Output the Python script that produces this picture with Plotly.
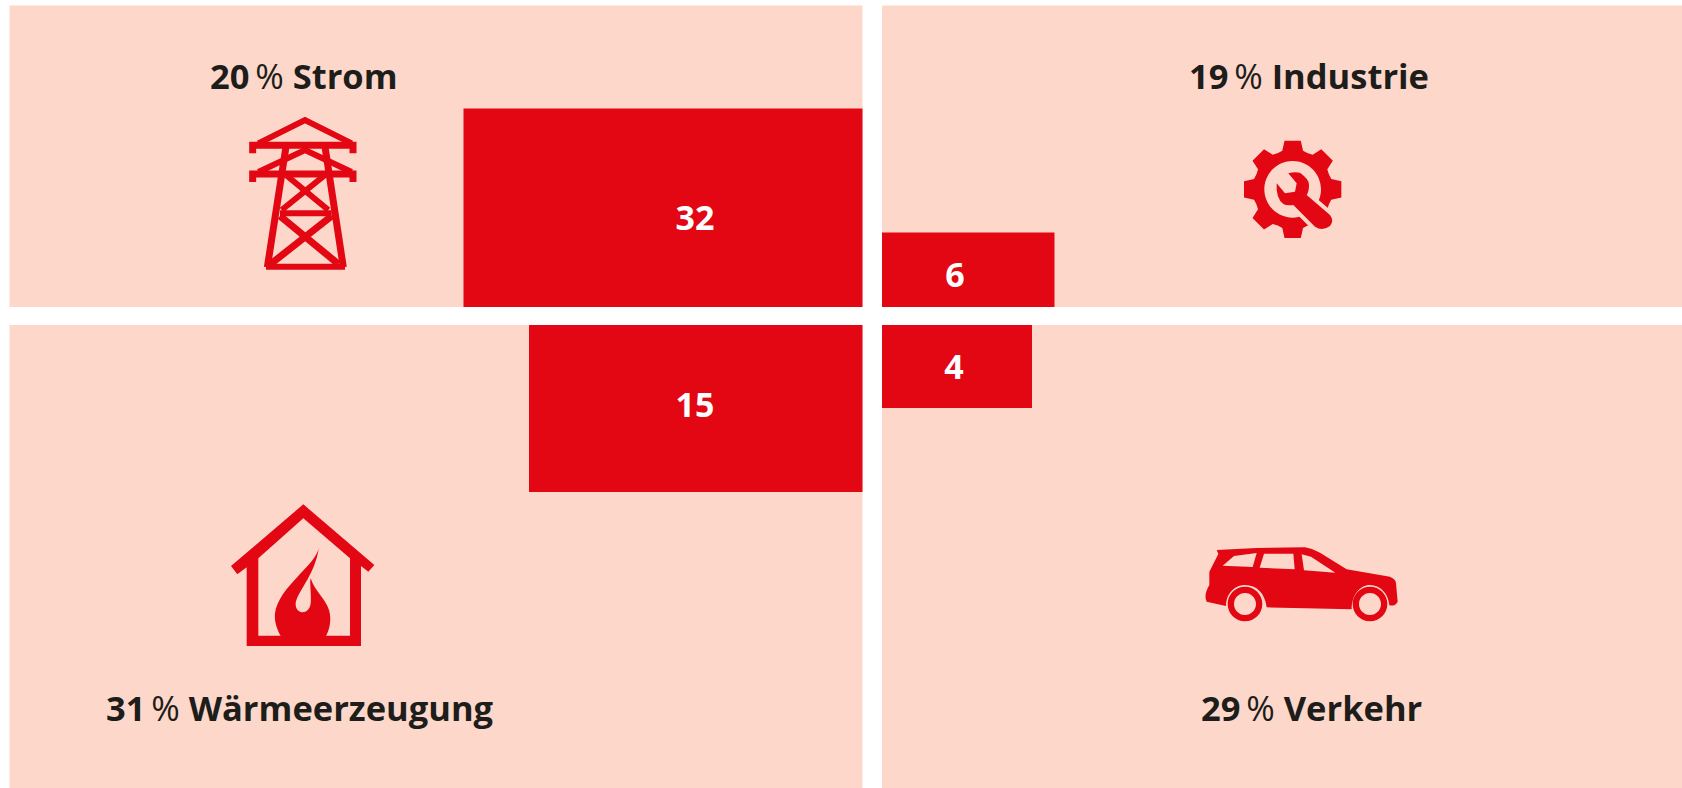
import math
import re
import plotly.graph_objects as go

# ---- data ----
sectors = ["Strom", "Industrie", "Wärmeerzeugung", "Verkehr"]
shares = [20, 19, 31, 29]
flows = [32, 6, 15, 4]

# ---- layout (pixels of the 1682x788 canvas) ----
W, H = 1682, 788
RED, PEACH, INK = "#E30613", "#FDD8CA", "#1D1D1B"
FONT = "Open Sans"

panels = [(9.5, 5.5, 862.5, 307), (882, 5.5, 1682, 307), (9.5, 325, 862.5, 788), (882, 325, 1682, 788)]
label_pos = [(304, 75), (1309, 75), (300, 707), (1311, 707)]
flow_bars = [(463.5, 108.5, 862.5, 307), (882, 232.5, 1054.5, 307), (529, 325, 862.5, 492), (882, 325, 1032, 408)]
flow_label_pos = [(695, 221), (955, 278), (695, 408), (954, 370)]


def zp(path, ox, oy):
    """Icon outlines are written in 3x zoom units; convert to canvas pixels."""
    out, is_x = [], True
    for tok in re.findall(r"[A-Za-z]|-?\d+\.?\d*", path):
        if tok.isalpha():
            out.append(tok)
            is_x = True
        else:
            v = float(tok) / 3 + (ox if is_x else oy)
            out.append(f"{v:.2f}")
            is_x = not is_x
    return " ".join(out)


def circle(cx, cy, r):
    k = 0.5523 * r
    return (f"M {cx-r} {cy} C {cx-r} {cy-k} {cx-k} {cy-r} {cx} {cy-r} "
            f"C {cx+k} {cy-r} {cx+r} {cy-k} {cx+r} {cy} "
            f"C {cx+r} {cy+k} {cx+k} {cy+r} {cx} {cy+r} "
            f"C {cx-k} {cy+r} {cx-r} {cy+k} {cx-r} {cy} Z ")


def gear_outline(cx, cy, teeth=8, tip=148, root=120, valley=116, tip_half=9.5, base_half=15):
    def pt(r, deg):
        a = math.radians(deg)
        return f"{cx + r * math.sin(a):.1f} {cy - r * math.cos(a):.1f}"

    step = 360 / teeth
    parts = []
    for k in range(teeth):
        c = k * step
        parts.append(("M " if k == 0 else "L ") + pt(root, c - base_half))
        parts.append("L " + pt(tip, c - tip_half))
        parts.append("L " + pt(tip, c + tip_half))
        parts.append("L " + pt(root, c + base_half))
        parts.append("Q " + pt(valley, c + step / 2) + " " + pt(root, c + step - base_half))
    return " ".join(parts) + " Z "


shapes = []
for x0, y0, x1, y1 in panels:
    shapes.append(dict(type="rect", x0=x0, y0=y0, x1=x1, y1=y1, fillcolor=PEACH,
                       line_width=0, layer="below"))


def fill(path, ox, oy, color=RED, line=None, lw=0):
    shapes.append(dict(type="path", path=zp(path, ox, oy), fillcolor=color, layer="above",
                       line=dict(color=line or color, width=lw)))


def stroke(path, ox, oy, lw):
    shapes.append(dict(type="path", path=zp(path, ox, oy), layer="above",
                       line=dict(color=RED, width=lw)))


# pylon
o = (180, 40)
stroke("M 235 310 L 375 240 L 515 310", *o, 6)
stroke("M 218 340 L 218 316 L 519 316 L 519 340", *o, 7)
stroke("M 235 396 L 375 330 L 515 396", *o, 6)
stroke("M 218 426 L 218 402 L 519 402 L 519 426", *o, 7)
stroke("M 318 320 L 262 682", *o, 7)
stroke("M 435 320 L 490 682", *o, 7)
stroke("M 258 680 L 495 680", *o, 6)
stroke("M 300 520 L 455 520", *o, 6)
stroke("M 318 405 L 445 510", *o, 6)
stroke("M 435 405 L 305 510", *o, 6)
stroke("M 300 528 L 475 672", *o, 7)
stroke("M 455 528 L 272 672", *o, 7)

# gear and wrench
o = (1235, 130)
shapes.append(dict(type="path", path=zp(gear_outline(173, 178) + circle(173, 178, 85), *o), fillcolor=RED,
                   layer="above", fillrule="evenodd", line=dict(color=RED, width=0)))
wrench = ("M 160 130 Q 178 124 195 128 Q 225 150 222 165 Q 222 185 215 195 L 285 255 Q 298 272 285 288 "
          "Q 262 305 240 290 L 175 225 Q 155 228 145 222 Q 122 205 125 160 L 150 190 L 180 185 L 185 160 Z")
fill(wrench, *o, PEACH, PEACH, 8)
fill(wrench, *o)

# house with flame
o = (200, 490)
shapes.append(dict(type="path", fillcolor=RED, layer="above", fillrule="evenodd", line=dict(color=RED, width=0),
                   path=zp("M 310 43 L 523 225 L 505 245 L 483 228 L 483 468 L 140 468 L 140 232 L 112 253 "
                           "L 93 228 Z M 310 85 L 175 205 L 175 437 L 450 437 L 450 205 Z", *o)))
fill("M 357 170 C 350 225 235 290 225 370 C 222 395 232 420 242 438 L 378 438 C 388 420 396 390 387 360 "
     "C 376 325 345 305 332 265 C 328 275 335 320 332 340 C 328 375 290 375 287 345 C 285 310 345 260 357 170 Z", *o)

# car
o = (1190, 530)
fill("M 80 60 L 200 54 L 345 52 Q 370 56 390 68 L 470 118 L 600 140 Q 618 148 618 160 L 623 215 Q 615 230 598 226 "
     "C 595 190 570 165 540 165 C 510 165 485 195 485 238 L 230 232 C 225 190 200 165 165 165 C 135 165 108 190 108 228 "
     "L 50 215 Q 40 195 58 165 L 58 125 L 85 72 Z", *o)
for pts in ("M 98 107 L 132 78 L 200 69 L 188 111 Z", "M 222 71 L 310 71 L 314 118 L 209 113 Z",
            "M 335 73 L 363 80 L 436 128 L 342 121 Z"):
    fill(pts, *o, PEACH)
for cx in (165, 540):
    shapes.append(dict(type="path", fillcolor=RED, layer="above", fillrule="evenodd", line=dict(color=RED, width=0),
                       path=zp(circle(cx, 222, 52) + circle(cx, 222, 33), *o)))

# ---- figure ----
fig = go.Figure()
for val, (x0, y0, x1, y1) in zip(flows, flow_bars):
    fig.add_trace(go.Bar(orientation="h", y=[(y0 + y1) / 2], x=[x1 - x0], base=[x0], width=[y1 - y0],
                         marker=dict(color=RED, line_width=0), name=str(val), hoverinfo="skip"))
fig.add_trace(go.Scatter(x=[p[0] for p in flow_label_pos], y=[p[1] for p in flow_label_pos], mode="text",
                         text=[str(v) for v in flows],
                         textfont=dict(family=FONT, size=34, color="white", weight=700), hoverinfo="skip"))

annotations = [dict(x=x, y=y, text=f"<b>{s}</b>\u2009% <b>{c}</b>", showarrow=False, xanchor="center", yanchor="middle",
                    font=dict(family=FONT, size=34.5, color=INK))
               for c, s, (x, y) in zip(sectors, shares, label_pos)]

fig.update_layout(width=W, height=H, margin=dict(l=0, r=0, t=0, b=0), showlegend=False, barmode="overlay",
                  paper_bgcolor="white", plot_bgcolor="white", shapes=shapes, annotations=annotations,
                  xaxis=dict(range=[0, W], visible=False, fixedrange=True),
                  yaxis=dict(range=[H, 0], visible=False, fixedrange=True))
fig.write_html("out.html", config=dict(displayModeBar=False),
               post_script="document.body.style.margin='0';document.documentElement.style.overflow='hidden';")
